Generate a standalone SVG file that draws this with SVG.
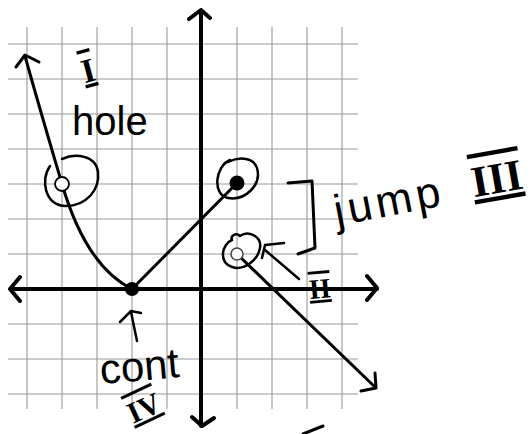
<svg xmlns="http://www.w3.org/2000/svg" width="531" height="434" viewBox="0 0 531 434">
<style>
.grid{stroke:#9a9a9a;stroke-width:1.1;fill:none}
.axis{stroke:#000;stroke-width:4;fill:none;stroke-linecap:round;stroke-linejoin:round}
.pen{stroke:#000;stroke-width:3;fill:none;stroke-linecap:round;stroke-linejoin:round}
.thin{stroke:#000;stroke-width:2.5;fill:none;stroke-linecap:round;stroke-linejoin:round}
.hand{font-family:"Liberation Sans",Arial,sans-serif;fill:#000}
.roman{font-family:"Liberation Serif","Times New Roman",serif;fill:#000;text-decoration:overline underline}
</style>
<rect width="531" height="434" fill="#fff"/>
<g id="grid">
<path class="grid" d="M8,44H358M8,79H358M8,114H358M8,149H358M8,184H358M8,219H358M8,254H358M8,324H358M8,359H358M8,394H358"/>
<path class="grid" d="M27,27V409M62,27V409M97,27V409M132,27V409M167,27V409M237,27V409M272,27V409M307,27V409M342,27V409"/>
</g>
<g id="axes">
<path class="axis" d="M10,289H377M20,277L10,289L20,301M367,276L377,288L367,300"/>
<path class="axis" d="M201,10V426M189,19L201,10L210,18M192,417L202,426L214,418"/>
</g>
<g id="connectors">
<path id="curve-left" class="pen" d="M25,56C40,110 52,150 62,184C76,232 98,272 132,289"/>
<path class="pen" d="M16,67L25,55L39,62"/>
<path id="line-middle" class="pen" d="M132,289L237,183"/>
<path id="line-right" class="pen" d="M237,254L376,388M361,391L376,388L375,373"/>
<path id="arrow-II" class="thin" d="M299,279L265,250M262,258L265,245L284,243"/>
<path id="arrow-cont" class="thin" d="M137,341L131,312M120,322L131,311L141,313"/>
<path id="bracket" class="pen" d="M288,183L312,181L315,248L298,254"/>
<path id="stroke-bottom" class="pen" d="M303,434L323,426"/>
</g>
<g id="hole-left">
<path class="thin" d="M50,166C40,180 45,206 66,206C86,206 100,190 98,172C96,155 75,153 62,159"/>
<circle cx="62" cy="184" r="7" fill="#fff" stroke="#000" stroke-width="1.8"/>
</g>
<g id="vertex">
<circle cx="132" cy="289" r="7" fill="#000"/>
</g>
<g id="point-filled">
<path class="thin" d="M230,160C215,166 212,195 228,198C245,201 262,185 257,168C254,158 240,156 228,162"/>
<circle cx="237" cy="183" r="7.5" fill="#000"/>
</g>
<g id="point-open">
<path class="thin" d="M232,240C222,244 218,262 232,267C244,271 258,260 260,248C262,236 248,230 240,236C236,232 230,236 232,240"/>
<circle cx="237" cy="254" r="6" fill="#fff" stroke="#444" stroke-width="1.5"/>
</g>
<g id="label-I">
<text class="roman" x="88" y="82" font-size="34" font-weight="bold" text-anchor="middle" transform="rotate(-15 88 70)">I</text>
<text class="hand" x="72" y="135" font-size="40">hole</text>
</g>
<g id="label-jump">
<text class="hand" x="337" y="226" font-size="44" letter-spacing="4" transform="rotate(-11 337 226)">jump</text>
<text class="roman" x="497" y="193" font-size="44" font-weight="bold" text-anchor="middle" transform="rotate(-10 497 180)">III</text>
</g>
<g id="label-II">
<text class="roman" x="320" y="298" font-size="28" font-weight="bold" text-anchor="middle" transform="rotate(-5 320 290)">II</text>
</g>
<g id="label-cont">
<text class="hand" x="101" y="384" font-size="42" transform="rotate(-5 101 384)">cont</text>
<text class="roman" x="144" y="418" font-size="30" font-weight="bold" text-anchor="middle" transform="rotate(-25 144 408)">IV</text>
</g>
</svg>
